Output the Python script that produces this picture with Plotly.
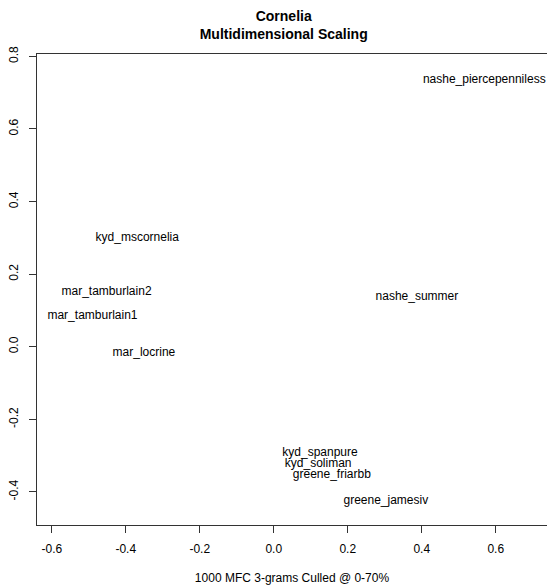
import plotly.graph_objects as go

labels = ["nashe_piercepenniless", "kyd_mscornelia", "mar_tamburlain2", "mar_tamburlain1",
          "mar_locrine", "nashe_summer", "kyd_spanpure", "kyd_soliman",
          "greene_friarbb", "greene_jamesiv"]
dim1 = [0.569, -0.369, -0.452, -0.490, -0.351, 0.387, 0.125, 0.120, 0.157, 0.303]
dim2 = [0.735, 0.300, 0.150, 0.085, -0.018, 0.138, -0.293, -0.324, -0.353, -0.425]

x_ticks = [-0.6, -0.4, -0.2, 0.0, 0.2, 0.4, 0.6]
x_tick_labels = ["-0.6", "-0.4", "-0.2", "0.0", "0.2", "0.4", "0.6"]
y_ticks = [-0.4, -0.2, 0.0, 0.2, 0.4, 0.6, 0.8]
y_tick_labels = ["-0.4", "-0.2", "0.0", "0.2", "0.4", "0.6", "0.8"]

FONT = "Liberation Sans, Arial, Helvetica, sans-serif"

fig = go.Figure()
fig.add_trace(go.Scatter(
    x=dim1, y=dim2, mode="text", text=labels,
    textposition="middle center",
    textfont=dict(family=FONT, size=12, color="#000000"),
    cliponaxis=False, hoverinfo="text", showlegend=False,
))

fig.update_layout(
    width=547, height=585,
    margin=dict(l=37, r=0, t=54, b=60),
    paper_bgcolor="white", plot_bgcolor="white",
    font=dict(family=FONT, size=12, color="#000000"),
    title=dict(
        text="Cornelia<br>Multidimensional Scaling",
        font=dict(family=FONT, size=14, color="#000000", weight="bold"),
        x=283.7 / 547, xanchor="center", xref="container",
        y=1 - 21 / 585, yanchor="top", yref="container",
    ),
    xaxis=dict(
        range=[-0.640, 0.7386], showgrid=False, zeroline=False,
        showline=True, linecolor="#333333", linewidth=1, mirror=True,
        ticks="outside", ticklen=7, tickcolor="#333333",
        tickvals=x_ticks, ticktext=x_tick_labels, ticklabelstandoff=6,
        tickfont=dict(family=FONT, size=12, color="#000000"),
        title=dict(text="1000 MFC 3-grams Culled @ 0-70%",
                   font=dict(family=FONT, size=12, color="#000000"), standoff=18),
    ),
    yaxis=dict(
        range=[-0.491, 0.8066], showgrid=False, zeroline=False,
        showline=True, linecolor="#333333", linewidth=1, mirror=False,
        ticks="outside", ticklen=7, tickcolor="#333333",
        tickvals=y_ticks, ticktext=y_tick_labels, tickangle=-90,
        ticklabelstandoff=6,
        tickfont=dict(family=FONT, size=12, color="#000000"),
    ),
)

fig.write_html("out.html", config={"displayModeBar": False},
               post_script="document.body.style.margin='0';document.body.style.overflow='hidden';")
